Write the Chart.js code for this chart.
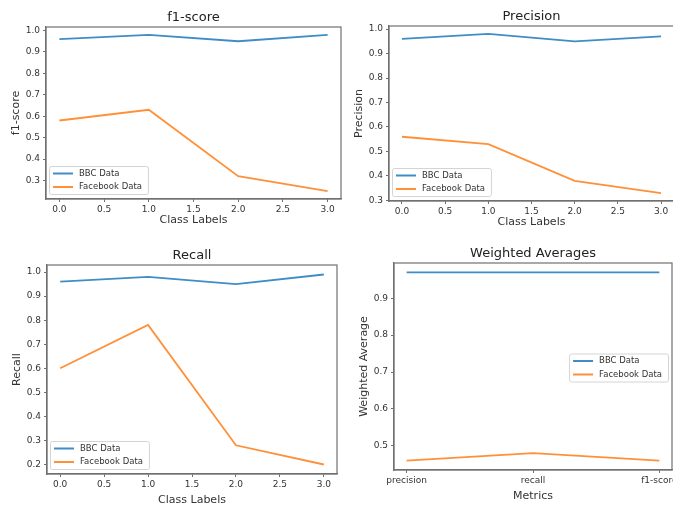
<!DOCTYPE html>
<html>
<head>
<meta charset="utf-8">
<script src="https://cdn.jsdelivr.net/npm/chart.js@4/dist/chart.umd.min.js"></script>
<style>
  html, body { margin: 0; padding: 0; background: #fff; overflow: hidden; }
  body { width: 673px; height: 508px; position: relative; }
  canvas { position: absolute; }
</style>
</head>
<body>
<canvas id="cF1"></canvas>
<canvas id="cPrec"></canvas>
<canvas id="cRec"></canvas>
<canvas id="cAvg"></canvas>
<script>
// ═══════════════════════════════════════════════
//  DATA
// ═══════════════════════════════════════════════

const SERIES_LABELS = ['BBC Data', 'Facebook Data'];
const CLASSES       = [0, 1, 2, 3];

const F1_BBC   = [0.96, 0.98, 0.95, 0.98];
const F1_FB    = [0.58, 0.63, 0.32, 0.25];

const PREC_BBC = [0.96, 0.98, 0.95, 0.97];
const PREC_FB  = [0.56, 0.53, 0.38, 0.33];

const REC_BBC  = [0.96, 0.98, 0.95, 0.99];
const REC_FB   = [0.60, 0.78, 0.28, 0.20];

const METRICS  = ['precision', 'recall', 'f1-score'];
const AVG_BBC  = [0.97, 0.97, 0.97];
const AVG_FB   = [0.46, 0.48, 0.46];

// ═══════════════════════════════════════════════
//  STYLE
// ═══════════════════════════════════════════════

const COLORS = ['#3f8dc6', '#ff9038'];
const FONT   = '"DejaVu Sans", sans-serif';
const TEXT   = '#333';
const SPINE  = '#707070';

// matplotlib-like autoscale: 5% margin each side
const pad = (vals) => {
  const lo = Math.min(...vals), hi = Math.max(...vals);
  const m = (hi - lo) * 0.05;
  return [lo - m, hi + m];
};

// box round the whole axes
const frame = {
  id: 'frame',
  afterDatasetsDraw(chart) {
    const { ctx, chartArea: a } = chart;
    ctx.save();
    ctx.strokeStyle = SPINE;
    ctx.lineWidth = 1.2;
    ctx.strokeRect(a.left, a.top, a.right - a.left, a.bottom - a.top);
    ctx.restore();
  }
};

// legend drawn inside the axes
const boxLegend = {
  id: 'boxLegend',
  afterDatasetsDraw(chart, args, opts) {
    const { ctx, chartArea: a } = chart;
    const sets = chart.data.datasets;
    ctx.save();
    ctx.font = '8.5px ' + FONT;
    const tw = Math.max(...sets.map(d => ctx.measureText(d.label).width));
    const w = tw + 36, h = 28;
    let x, y;
    if (opts.loc === 'center right') {
      x = a.right - 4 - w;
      y = (a.top + a.bottom) / 2 - h / 2 + 1;
    } else {
      x = a.left + 3;
      y = a.bottom - 5 - h;
    }
    ctx.beginPath();
    if (ctx.roundRect) ctx.roundRect(x + 0.5, y + 0.5, w, h, 2);
    else ctx.rect(x + 0.5, y + 0.5, w, h);
    ctx.fillStyle = 'rgba(255,255,255,0.85)';
    ctx.fill();
    ctx.strokeStyle = '#d4d4d4';
    ctx.lineWidth = 1;
    ctx.stroke();
    sets.forEach((d, i) => {
      const cy = y + 7.5 + i * 13.5;
      ctx.beginPath();
      ctx.moveTo(x + 4, cy);
      ctx.lineTo(x + 24, cy);
      ctx.strokeStyle = d.borderColor;
      ctx.lineWidth = 2;
      ctx.stroke();
      ctx.fillStyle = TEXT;
      ctx.textBaseline = 'middle';
      ctx.fillText(d.label, x + 30, cy);
    });
    ctx.restore();
  }
};

// ═══════════════════════════════════════════════
//  PANEL
// ═══════════════════════════════════════════════

const YW = 46, TH = 26, XH = 34, PR = 30;

const makePanel = (id, p) => {
  const el = document.getElementById(id);
  const left = Math.round(p.L) - YW;
  const top  = Math.round(p.T) - TH;
  el.width  = Math.round(p.R) - left + PR;
  el.height = Math.round(p.B) + XH - top;
  el.style.left = left + 'px';
  el.style.top  = top + 'px';

  const [ymin, ymax] = pad([...p.series[0], ...p.series[1]]);
  const [xmin, xmax] = pad(p.xs);

  const axisCommon = {
    grid: { drawOnChartArea: false, drawTicks: true, tickLength: 3, tickColor: SPINE },
    border: { display: true, color: SPINE, width: 1.2 },
  };

  new Chart(el, {
    type: 'line',
    data: {
      datasets: p.series.map((vals, i) => ({
        label: SERIES_LABELS[i],
        data: vals.map((v, j) => ({ x: p.xs[j], y: v })),
        borderColor: COLORS[i],
        backgroundColor: COLORS[i],
        borderWidth: 1.8,
        pointRadius: 0,
        tension: 0,
        fill: false,
      }))
    },
    plugins: [frame, boxLegend],
    options: {
      responsive: false,
      animation: false,
      layout: { padding: { left: 0, top: 0, right: PR, bottom: 0 } },
      plugins: {
        legend: { display: false },
        tooltip: { enabled: false },
        title: {
          display: true,
          text: p.title,
          fullSize: false,
          color: '#222',
          font: { family: FONT, size: 13, weight: 'normal', lineHeight: 1.2 },
          padding: { top: TH - 15.6 - 2, bottom: 2 },
        },
        boxLegend: { loc: p.legend },
      },
      scales: {
        x: {
          ...axisCommon,
          type: 'linear',
          min: xmin,
          max: xmax,
          afterFit: (s) => { s.height = XH; },
          ticks: {
            stepSize: p.xStep,
            includeBounds: false,
            autoSkip: false,
            maxRotation: 0,
            padding: 2,
            color: TEXT,
            font: { family: FONT, size: 9 },
            callback: p.xLabel,
          },
          title: {
            display: true,
            text: p.xTitle,
            color: TEXT,
            font: { family: FONT, size: 11 },
            padding: { top: 0, bottom: XH - p.xGap - 6.6 },
          },
        },
        y: {
          ...axisCommon,
          type: 'linear',
          min: ymin,
          max: ymax,
          afterFit: (s) => { s.width = YW; },
          ticks: {
            stepSize: 0.1,
            includeBounds: false,
            padding: 3,
            color: TEXT,
            font: { family: FONT, size: 9 },
            callback: (v) => v.toFixed(1),
          },
          title: {
            display: true,
            text: p.yTitle,
            color: TEXT,
            font: { family: FONT, size: 11 },
            padding: { top: 9.4, bottom: 0 },
          },
        },
      },
    },
  });
};

const numLabel = (v) => v.toFixed(1);
const metricLabel = (v) => METRICS[v] ?? '';

// ═══════════════════════════════════════════════
//  INIT
// ═══════════════════════════════════════════════

makePanel('cF1', {
  L: 46, T: 26.5, R: 341, B: 198.5, xGap: 21.5,
  title: 'f1-score', xTitle: 'Class Labels', yTitle: 'f1-score',
  xs: CLASSES, xStep: 0.5, xLabel: numLabel,
  series: [F1_BBC, F1_FB], legend: 'lower left',
});

makePanel('cPrec', {
  L: 388.5, T: 26, R: 673.5, B: 200.6, xGap: 21,
  title: 'Precision', xTitle: 'Class Labels', yTitle: 'Precision',
  xs: CLASSES, xStep: 0.5, xLabel: numLabel,
  series: [PREC_BBC, PREC_FB], legend: 'lower left',
});

makePanel('cRec', {
  L: 47, T: 265, R: 337, B: 473.5, xGap: 26.5,
  title: 'Recall', xTitle: 'Class Labels', yTitle: 'Recall',
  xs: CLASSES, xStep: 0.5, xLabel: numLabel,
  series: [REC_BBC, REC_FB], legend: 'lower left',
});

makePanel('cAvg', {
  L: 394.4, T: 263, R: 671.6, B: 470.2, xGap: 26.5,
  title: 'Weighted Averages', xTitle: 'Metrics', yTitle: 'Weighted Average',
  xs: METRICS.map((_, i) => i), xStep: 1, xLabel: metricLabel,
  series: [AVG_BBC, AVG_FB], legend: 'center right',
});
</script>
</body>
</html>
